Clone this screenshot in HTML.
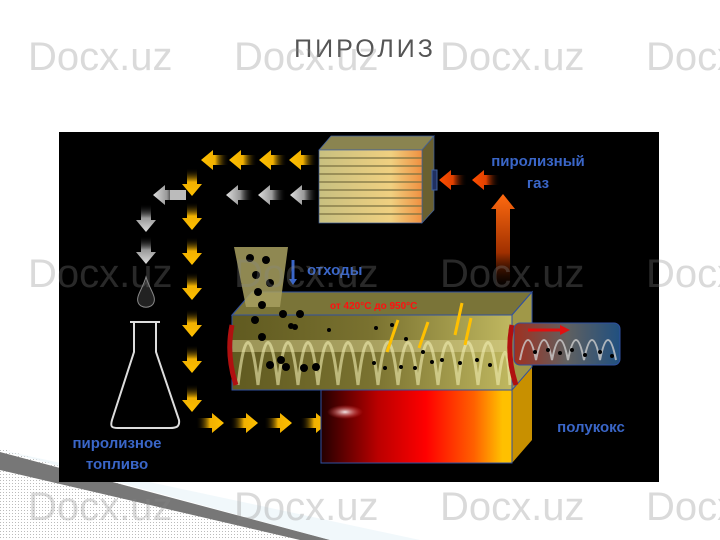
<!DOCTYPE html>
<html><head><meta charset="utf-8"><style>
html,body{margin:0;padding:0;background:#fff;width:720px;height:540px;overflow:hidden}
svg{display:block}
text{font-family:"Liberation Sans",sans-serif}
</style></head><body>
<svg width="720" height="540" viewBox="0 0 720 540" xmlns="http://www.w3.org/2000/svg">
<defs>
<pattern id="dots" width="3" height="3" patternUnits="userSpaceOnUse"><rect width="3" height="3" fill="#fff"/><rect width="1" height="1" fill="#bbb"/></pattern>
<linearGradient id="yl" x1="0" x2="1"><stop offset="0" stop-color="#ffc000"/><stop offset="0.5" stop-color="#f0b000"/><stop offset="1" stop-color="#000" stop-opacity="0"/></linearGradient>
<linearGradient id="gl" x1="0" x2="1"><stop offset="0" stop-color="#ddd"/><stop offset="0.5" stop-color="#999"/><stop offset="1" stop-color="#000" stop-opacity="0"/></linearGradient>
<linearGradient id="ol" x1="0" x2="1"><stop offset="0" stop-color="#ff5000"/><stop offset="0.5" stop-color="#e04000"/><stop offset="1" stop-color="#000" stop-opacity="0"/></linearGradient>
<linearGradient id="gasv" x1="0" y1="0" x2="0" y2="1"><stop offset="0" stop-color="#ff6a10"/><stop offset="0.6" stop-color="#a03000"/><stop offset="1" stop-color="#000" stop-opacity="0.1"/></linearGradient>
<linearGradient id="furn" x1="0" x2="1"><stop offset="0" stop-color="#200"/><stop offset="0.3" stop-color="#b00"/><stop offset="0.55" stop-color="#f00"/><stop offset="0.8" stop-color="#ff6000"/><stop offset="0.95" stop-color="#ffc000"/></linearGradient>
<linearGradient id="tube" x1="0" x2="1"><stop offset="0" stop-color="#605a20"/><stop offset="0.5" stop-color="#7a7230"/><stop offset="1" stop-color="#c0b860"/></linearGradient>
<linearGradient id="outt" x1="0" x2="1"><stop offset="0" stop-color="#a03020"/><stop offset="0.5" stop-color="#606060"/><stop offset="1" stop-color="#205080"/></linearGradient>
<linearGradient id="cond" x1="0" x2="1"><stop offset="0" stop-color="#c8c080"/><stop offset="0.7" stop-color="#f0d080"/><stop offset="1" stop-color="#f09040"/></linearGradient>
<radialGradient id="flame" cx="0.5" cy="0.5" r="0.5"><stop offset="0" stop-color="#fff" stop-opacity="0.9"/><stop offset="1" stop-color="#f44" stop-opacity="0"/></radialGradient>
<path id="la" d="M0 0 L12 -10 L12 -5 L28 -5 L28 5 L12 5 L12 10 Z"/>
</defs>

<polygon points="0,448 0,540 310,540" fill="url(#dots)"/>
<polygon points="0,452 330,540 300,540 0,470" fill="#777"/>
<polygon points="0,450 420,540 330,540" fill="#e8f4f8" opacity="0.6"/>

<text x="365" y="57" font-size="25" fill="#555" text-anchor="middle" letter-spacing="3">ПИРОЛИЗ</text>

<rect x="59" y="132" width="600" height="350" fill="#000"/>

<g>
<polygon points="319,150 331,136 434,136 422,150" fill="#8a8450" stroke="#4060a0" stroke-width="0.7"/>
<polygon points="422,150 434,136 434,210 422,223" fill="#6a6030" stroke="#4060a0" stroke-width="0.7"/>
<rect x="319" y="150" width="103" height="73" fill="url(#cond)" stroke="#4060a0" stroke-width="0.7"/>
<g stroke="#7a7040" stroke-width="1.2" fill="none">
<line x1="319" y1="158" x2="422" y2="158"/><line x1="319" y1="166" x2="422" y2="166"/><line x1="319" y1="174" x2="422" y2="174"/><line x1="319" y1="182" x2="422" y2="182"/><line x1="319" y1="190" x2="422" y2="190"/><line x1="319" y1="198" x2="422" y2="198"/><line x1="319" y1="206" x2="422" y2="206"/><line x1="319" y1="214" x2="422" y2="214"/>
</g>
<rect x="432" y="170" width="5" height="20" fill="#203060" stroke="#4060a0"/>
</g>

<use href="#la" transform="translate(439,180)" fill="url(#ol)"/>
<use href="#la" transform="translate(472,180)" fill="url(#ol)"/>
<polygon points="503,194 515,209 510,209 510,292 496,292 496,209 491,209" fill="url(#gasv)"/>
<text x="538" y="166" font-size="15" font-weight="bold" fill="#3a66c8" text-anchor="middle">пиролизный</text>
<text x="538" y="188" font-size="15" font-weight="bold" fill="#3a66c8" text-anchor="middle">газ</text>

<use href="#la" transform="translate(201,160)" fill="url(#yl)"/>
<use href="#la" transform="translate(229,160)" fill="url(#yl)"/>
<use href="#la" transform="translate(259,160)" fill="url(#yl)"/>
<use href="#la" transform="translate(289,160)" fill="url(#yl)"/>
<use href="#la" transform="translate(153,195)" fill="url(#gl)"/>
<use href="#la" transform="translate(226,195)" fill="url(#gl)"/>
<use href="#la" transform="translate(258,195)" fill="url(#gl)"/>
<use href="#la" transform="translate(290,195)" fill="url(#gl)"/>
<rect x="170" y="190" width="16" height="10" fill="#bbb"/>
<use href="#la" transform="translate(146,232) rotate(-90)" fill="url(#gl)"/>
<use href="#la" transform="translate(146,264) rotate(-90)" fill="url(#gl)"/>
<use href="#la" transform="translate(192,196) rotate(-90)" fill="url(#yl)"/>
<use href="#la" transform="translate(192,230) rotate(-90)" fill="url(#yl)"/>
<use href="#la" transform="translate(192,265) rotate(-90)" fill="url(#yl)"/>
<use href="#la" transform="translate(192,300) rotate(-90)" fill="url(#yl)"/>
<use href="#la" transform="translate(192,337) rotate(-90)" fill="url(#yl)"/>
<use href="#la" transform="translate(192,373) rotate(-90)" fill="url(#yl)"/>
<use href="#la" transform="translate(192,412) rotate(-90)" fill="url(#yl)"/>
<use href="#la" transform="translate(224,423) rotate(180)" fill="url(#yl)"/>
<use href="#la" transform="translate(258,423) rotate(180)" fill="url(#yl)"/>
<use href="#la" transform="translate(292,423) rotate(180)" fill="url(#yl)"/>
<use href="#la" transform="translate(328,423) rotate(180)" fill="url(#yl)"/>

<path d="M146 277 C150 290 156 296 154 302 C152 309 140 309 138 302 C136 296 142 290 146 277 Z" fill="#222" stroke="#888" stroke-width="1"/>
<path d="M134 322 L156 322 L156 352 L179 420 C180 427 176 428 170 428 L118 428 C112 428 110 427 112 420 L134 352 Z" fill="#000" stroke="#ddd" stroke-width="2"/>
<line x1="130" y1="322" x2="160" y2="322" stroke="#ddd" stroke-width="2"/>
<text x="117" y="448" font-size="15" font-weight="bold" fill="#3a66c8" text-anchor="middle">пиролизное</text>
<text x="117" y="469" font-size="15" font-weight="bold" fill="#3a66c8" text-anchor="middle">топливо</text>

<polygon points="512,390 532,367 532,440 512,463" fill="#c89000"/>
<rect x="321" y="390" width="191" height="73" fill="url(#furn)" stroke="#3050a0" stroke-width="1"/>
<ellipse cx="345" cy="412" rx="18" ry="7" fill="url(#flame)"/>

<polygon points="232,315 252,292 532,292 512,315" fill="#7a7438" stroke="#3050a0" stroke-width="1"/>
<polygon points="512,315 532,292 532,367 512,390" fill="#a09848" stroke="#3050a0" stroke-width="1"/>
<rect x="232" y="315" width="280" height="75" fill="url(#tube)" stroke="#3050a0" stroke-width="1"/>
<rect x="232" y="340" width="280" height="12" fill="#d8d090" opacity="0.5"/>
<path d="M238 385 Q248 300 258 385 Q268 300 278 385 Q288 300 298 385 Q308 300 318 385 Q328 300 338 385 Q348 300 358 385 Q368 300 378 385 Q388 300 398 385 Q408 300 418 385 Q428 300 438 385 Q448 300 458 385 Q468 300 478 385 Q488 300 498 385 Q506 320 510 385" fill="none" stroke="#f0ecb0" stroke-width="3" opacity="0.6"/>
<path d="M232 325 Q226 355 236 385" fill="none" stroke="#b01010" stroke-width="5"/>
<path d="M512 325 Q506 355 516 385" fill="none" stroke="#b01010" stroke-width="5"/>
<polygon points="234,247 288,247 280,307 246,307" fill="#a8a060" opacity="0.85"/>
<g fill="#000">
<circle cx="250" cy="258" r="4"/><circle cx="266" cy="260" r="4"/><circle cx="256" cy="275" r="4"/><circle cx="270" cy="283" r="4"/><circle cx="258" cy="292" r="4"/><circle cx="262" cy="305" r="4"/><circle cx="255" cy="320" r="4"/><circle cx="262" cy="337" r="4"/><circle cx="283" cy="314" r="4"/><circle cx="295" cy="327" r="3"/><circle cx="281" cy="360" r="4"/><circle cx="270" cy="365" r="4"/><circle cx="286" cy="367" r="4"/><circle cx="304" cy="368" r="4"/><circle cx="316" cy="367" r="4"/><circle cx="291" cy="326" r="3"/><circle cx="300" cy="314" r="4"/><circle cx="329" cy="330" r="2"/><circle cx="376" cy="328" r="2"/><circle cx="392" cy="325" r="2"/><circle cx="374" cy="363" r="2"/><circle cx="385" cy="368" r="2"/><circle cx="401" cy="367" r="2"/><circle cx="415" cy="368" r="2"/><circle cx="432" cy="362" r="2"/><circle cx="442" cy="360" r="2"/><circle cx="460" cy="363" r="2"/><circle cx="477" cy="360" r="2"/><circle cx="490" cy="365" r="2"/><circle cx="423" cy="352" r="2"/><circle cx="406" cy="339" r="2"/>
</g>
<line x1="293" y1="260" x2="293" y2="280" stroke="#3a66c8" stroke-width="3"/>
<polygon points="289,279 297,279 293,285" fill="#3a66c8"/>
<text x="307" y="275" font-size="15" font-weight="bold" fill="#3a66c8">отходы</text>
<text x="330" y="309" font-size="10" font-weight="bold" fill="#ff1010">от 420°C до 950°C</text>
<g stroke="#ffc000" stroke-width="3" fill="#ffc000">
<line x1="387" y1="352" x2="398" y2="320"/><line x1="419" y1="348" x2="428" y2="322"/><line x1="455" y1="335" x2="462" y2="303"/><line x1="465" y1="345" x2="471" y2="318"/>
</g>
<rect x="514" y="323" width="106" height="42" rx="6" fill="url(#outt)" stroke="#3050a0" stroke-width="1"/>
<path d="M520 360 Q528 320 536 360 Q544 320 552 360 Q560 320 568 360 Q576 320 584 360 Q592 320 600 360 Q608 320 616 360" fill="none" stroke="#ccc" stroke-width="2" opacity="0.8"/>
<line x1="528" y1="330" x2="560" y2="330" stroke="#e01010" stroke-width="3"/>
<polygon points="560,325 570,330 560,335" fill="#e01010"/>
<g fill="#000"><circle cx="535" cy="352" r="2"/><circle cx="548" cy="350" r="2"/><circle cx="560" cy="353" r="2"/><circle cx="572" cy="350" r="2"/><circle cx="585" cy="355" r="2"/><circle cx="600" cy="352" r="2"/><circle cx="612" cy="356" r="2"/></g>
<text x="591" y="432" font-size="15" font-weight="bold" fill="#3a66c8" text-anchor="middle">полукокс</text>

<g font-size="40" fill="#888" opacity="0.3" font-family="Liberation Sans Narrow, Liberation Sans, sans-serif">
<text x="28" y="70">Docx.uz</text><text x="234" y="70">Docx.uz</text><text x="440" y="70">Docx.uz</text><text x="646" y="70">Docx.uz</text>
<text x="28" y="287">Docx.uz</text><text x="234" y="287">Docx.uz</text><text x="440" y="287">Docx.uz</text><text x="646" y="287">Docx.uz</text>
<text x="28" y="520">Docx.uz</text><text x="234" y="520">Docx.uz</text><text x="440" y="520">Docx.uz</text><text x="646" y="520">Docx.uz</text>
</g>
</svg>
</body></html>
